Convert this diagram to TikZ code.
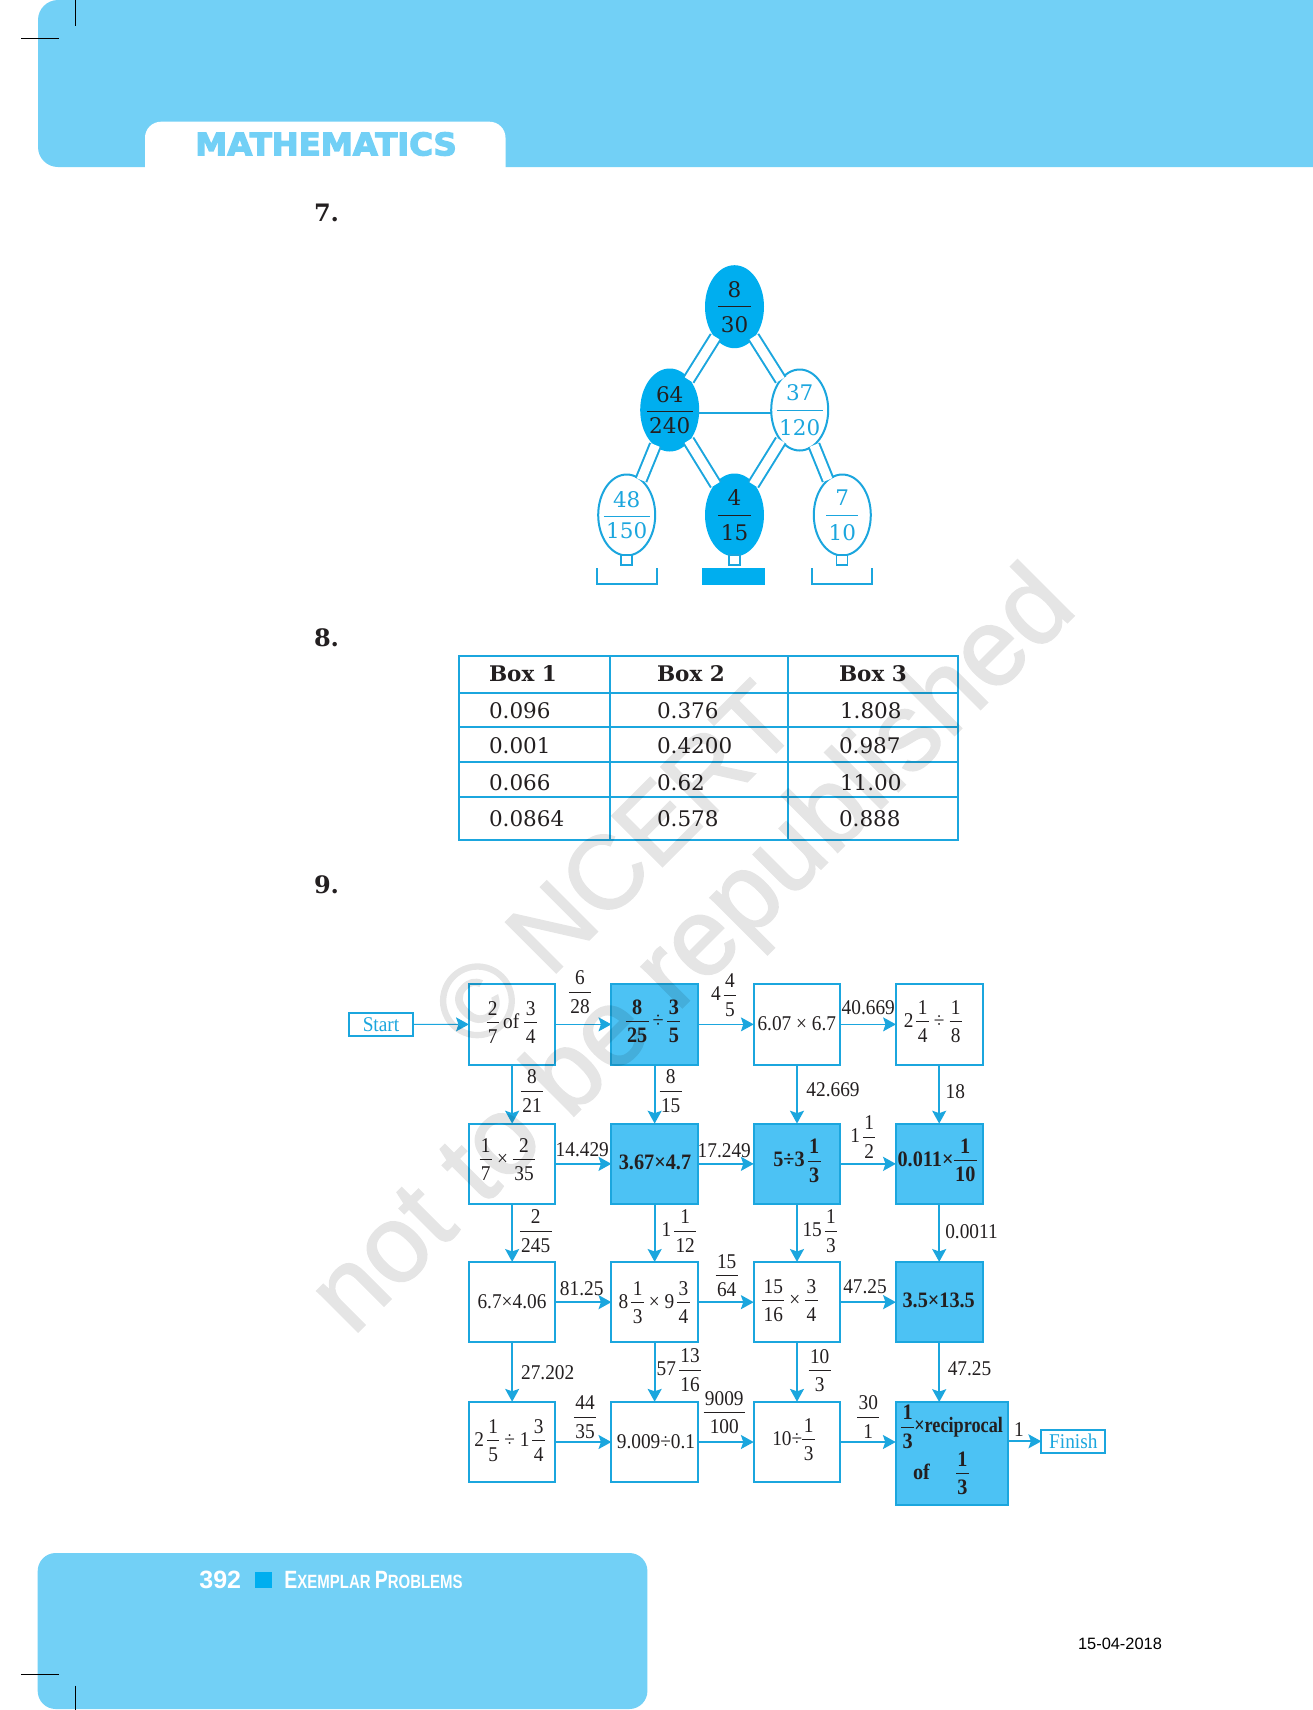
\documentclass[tikz,border=0pt]{standalone}
\usepackage{fontspec}
\setmainfont{Liberation Serif}[FakeStretch=0.92]
\newfontfamily\bk{DejaVu Serif}
\newfontfamily\hs{Liberation Sans}
\newfontfamily\wmf{Liberation Sans}[FakeBold=1.5]
\newfontfamily\hd{DejaVu Sans}[BoldFeatures={FakeBold=4}]
\usetikzlibrary{shapes.geometric,arrows.meta,calc}
\definecolor{hdr}{HTML}{72D0F6}
\definecolor{cy}{HTML}{00AEEF}
\definecolor{ln}{HTML}{1BA6DE}
\definecolor{fbox}{HTML}{4CC2F4}
\definecolor{ink}{HTML}{231F20}
\nulldelimiterspace=0.1pt
% fraction: flowchart
\newcommand\fr[2]{\ensuremath{\displaystyle\frac{\hbox{\kern0.7pt\raisebox{-1pt}{#1}\kern0.7pt}}{\rule{0pt}{9pt}\hbox{\kern0.7pt #2\kern0.7pt}}}}
\newcommand\mx{\kern1.4pt}
% fractions: ellipses, bar on the centre of the node
\newcommand\efr[2]{\makebox[0pt]{\smash{\raisebox{-2.7pt}{\smash{\ensuremath{\displaystyle\frac{\hbox{\kern1.2pt #1\kern1.2pt}}{\rule{0pt}{11.6pt}\hbox{\kern1.2pt #2\kern1.2pt}}}}}}}}
\newcommand\efs[2]{\makebox[0pt]{\smash{\raisebox{-3.5pt}{\smash{\ensuremath{\displaystyle\frac{\hbox{\kern1.2pt #1\kern1.2pt}}{\rule{0pt}{9.6pt}\hbox{\kern1.2pt #2\kern1.2pt}}}}}}}}
\tikzset{
 pg/.style={x=0.5pt,y=-0.5pt},
 lab/.style={inner sep=0,outer sep=0,anchor=base,text=ink,font=\fontsize{10.5}{12}\selectfont},
 blab/.style={inner sep=0,outer sep=0,anchor=base,text=ink,font=\fontsize{11}{12}\selectfont\bfseries},
 clab/.style={inner sep=0,outer sep=0,anchor=base,text=ln,font=\fontsize{10.5}{12}\selectfont},
 wbox/.style={draw=ln,line width=1pt,fill=white,inner sep=0,outer sep=0,minimum width=43.3pt,minimum height=40.3pt},
 fillbox/.style={wbox,fill=fbox},
 tagbox/.style={draw=ln,line width=1pt,fill=white,inner sep=0,outer sep=0,minimum width=32pt,minimum height=11.6pt},
 arr/.style={draw=ln,line width=0.9pt,-{Stealth[length=6.4pt,width=7pt,inset=1.2pt]}},
 thinarr/.style={arr,line width=0.5pt},
 elb/.style={ellipse,draw=ln,line width=1pt,inner sep=0,outer sep=0,minimum width=28.5pt,minimum height=40.5pt,font=\fontsize{10.75}{12}\selectfont\bk},
 efill/.style={elb,draw=cy,fill=cy,text=ink},
 eopen/.style={elb,fill=white,text=ln},
 dbl/.style={draw=ln,line width=1pt,double=white,double distance=4.6pt},
 stem/.style={draw=ln,line width=0.8pt,fill=white,inner sep=0,outer sep=0,minimum width=5.5pt,minimum height=5pt},
 tab/.style={inner sep=0,outer sep=0,anchor=base west,text=ink,font=\fontsize{10.75}{12}\selectfont\bk},
 tabh/.style={tab,font=\fontsize{10.75}{12}\selectfont\bk\bfseries},
 qn/.style={inner sep=0,outer sep=0,anchor=base west,text=ink,font=\fontsize{12}{14}\selectfont\bk\bfseries},
 tline/.style={draw=ln,line width=1pt},
 crop/.style={draw=black,line width=0.5pt},
 wmark/.style={inner sep=0,anchor=base,rotate=45,text=black},
}
\begin{document}
\begin{tikzpicture}[pg]
\useasboundingbox (0,0) rectangle (1313,1710);
\fill[white] (0,0) rectangle (1313,1710);
% header
\fill[hdr,rounded corners=10pt] (38,0) rectangle (1400,167);
\fill[white,rounded corners=8pt] (145,121.7) rectangle (505.5,210);
\node[inner sep=0,anchor=base,text=hdr,font=\fontsize{15.5}{18}\selectfont\hd\bfseries] (title) at (326,155.3) {\scalebox{1.04}[1]{MATHEMATICS}};
\draw[crop] (75.4,0) -- (75.4,25.7);
\draw[crop] (21,38.3) -- (58.5,38.3);
% footer
\fill[hdr,rounded corners=9pt] (37.7,1553) rectangle (647.4,1709);
\node[inner sep=0,anchor=base,text=white,font=\fontsize{12.5}{14}\selectfont\hs\bfseries] (pageno) at (220.3,1588.7) {392};
\fill[cy] (255,1571.7) rectangle (272.3,1588.3);
\node[inner sep=0,anchor=base west,text=white,font=\hs\bfseries] (foot) at (284,1588.7) {\scalebox{0.78}[1]{\fontsize{12.5}{14}\selectfont E\fontsize{9.6}{12}\selectfont XEMPLAR \fontsize{12.5}{14}\selectfont P\fontsize{9.6}{12}\selectfont ROBLEMS}};
\draw[crop] (20.8,1674.3) -- (58.5,1674.3);
\draw[crop] (75.5,1685.7) -- (75.5,1710);
\node[inner sep=0,anchor=base,text=black,font=\fontsize{8.2}{10}\selectfont\hs] (date) at (1120,1649) {15-04-2018};
% question numbers
\node[qn] (q7) at (314,221.7) {7.};
\node[qn] (q8) at (314,646) {8.};
\node[qn] (q9) at (314,893) {9.};
% Q7 ellipses
\node[efill] (et) at (734.5,306.7) {\efr{8}{30}};
\node[efill] (el) at (669.7,410) {\efs{64}{240}};
\node[eopen] (er) at (799.7,410) {\efr{37}{120}};
\node[eopen] (ebl) at (626.7,515) {\efs{48}{150}};
\node[efill] (ebm) at (734.5,515) {\efr{4}{15}};
\node[eopen] (ebr) at (842.3,515) {\efr{7}{10}};
\draw[dbl] (et) -- (el);
\draw[dbl] (et) -- (er);
\draw[dbl] (el) -- (ebl);
\draw[dbl] (el) -- (ebm);
\draw[dbl] (er) -- (ebm);
\draw[dbl] (er) -- (ebr);
\draw[tline] ([yshift=-1.5pt]el.east) -- ([yshift=-1.5pt]er.west);
\node[stem] (s1) at (626.7,560) {};
\node[stem] (s2) at (734.5,560) {};
\node[stem] (s3) at (842,560) {};
\draw[tline] (596.7,568) -- (596.7,584) -- (656.7,584) -- (656.7,568);
\fill[cy] (702,568) rectangle (764.7,584.7);
\draw[tline] (811.7,568) -- (811.7,584) -- (872.3,584) -- (872.3,568);
% Q8 table
\draw[tline] (459,656) rectangle (958,840);
\foreach \yy in {692.7,727.3,762.3,797}{\draw[tline] (459,\yy) -- (958,\yy);}
\foreach \xx in {610,788}{\draw[tline] (\xx,656) -- (\xx,840);}
\node[tabh] (h1) at (489,681.7) {Box 1};
\node[tabh] (h2) at (657,681.7) {Box 2};
\node[tabh] (h3) at (839,681.7) {Box 3};
\node[tab] (c11) at (489,718.3) {0.096};
\node[tab] (c12) at (657,718.3) {0.376};
\node[tab] (c13) at (840,718.3) {1.808};
\node[tab] (c21) at (489,753.3) {0.001};
\node[tab] (c22) at (657,753.3) {0.4200};
\node[tab] (c23) at (839,753.3) {0.987};
\node[tab] (c31) at (489,790) {0.066};
\node[tab] (c32) at (657,790) {0.62};
\node[tab] (c33) at (840,790) {11.00};
\node[tab] (c41) at (489,826) {0.0864};
\node[tab] (c42) at (657,826) {0.578};
\node[tab] (c43) at (839,826) {0.888};
% Q9 boxes
\node[tagbox] (start) at (380.8,1024.4) {};
\node[tagbox] (finish) at (1073.3,1441.3) {};
\node[wbox] (b11) at (512.15,1024.35) {};
\node[fillbox] (b12) at (654.65,1024.35) {};
\node[wbox] (b13) at (797,1024.35) {};
\node[wbox] (b14) at (939.2,1024.35) {};
\node[wbox] (b21) at (512.15,1163.85) {};
\node[fillbox] (b22) at (654.65,1163.85) {};
\node[fillbox] (b23) at (797,1163.85) {};
\node[fillbox] (b24) at (939.2,1163.85) {};
\node[wbox] (b31) at (512.15,1302.15) {};
\node[wbox] (b32) at (654.65,1302.15) {};
\node[wbox] (b33) at (797,1302.15) {};
\node[fillbox] (b34) at (939.2,1302.15) {};
\node[wbox] (b41) at (512.15,1442) {};
\node[wbox] (b42) at (654.65,1442) {};
\node[wbox] (b43) at (797,1442) {};
\node[fillbox,minimum width=56pt,minimum height=51.65pt] (b44) at (951.7,1453.65) {};
% connectors
\draw[thinarr] (start) -- (b11);
\draw[thinarr] (b11) -- (b12);
\draw[thinarr] (b12) -- (b13);
\draw[thinarr] (b13) -- (b14);
\draw[arr] (b21) -- (b22);
\draw[arr] (b22) -- (b23);
\draw[arr] (b23) -- (b24);
\draw[arr] (b31) -- (b32);
\draw[arr] (b32) -- (b33);
\draw[arr] (b33) -- (b34);
\draw[arr] (b41) -- (b42);
\draw[arr] (b42) -- (b43);
\draw[arr] (b43.east) -- (b43.east -| b44.west);
\draw[arr] (b44.east |- finish.west) -- (finish.west);
\draw[arr] (b11) -- (b21);
\draw[arr] (b21) -- (b31);
\draw[arr] (b31) -- (b41);
\draw[arr] (b12) -- (b22);
\draw[arr] (b22) -- (b32);
\draw[arr] (b32) -- (b42);
\draw[arr] (b13) -- (b23);
\draw[arr] (b23) -- (b33);
\draw[arr] (b33) -- (b43);
\draw[arr] (b14) -- (b24);
\draw[arr] (b24) -- (b34);
\draw[arr] (b34.south) -- (b34.south |- b44.north);
% box texts
\node[clab] (tstart) at (381,1031) {Start};
\node[clab] (tfinish) at (1073.3,1448) {Finish};
\node[lab] (t11) at (511.7,1028) {\fr{2}{7}\kern2pt of \fr{3}{4}};
\node[blab] (t12) at (653,1027) {\fr{8}{25}\,{\normalfont ÷}\,\fr{3}{5}};
\node[lab] (t13) at (796.8,1030) {6.07 × 6.7};
\node[lab] (t14) at (933,1027) {2\mx\fr{1}{4} ÷ \fr{1}{8}};
\node[lab] (t21) at (507.3,1165) {\fr{1}{7} × \fr{2}{35}};
\node[blab] (t22) at (655,1169) {3.67×4.7};
\node[blab] (t23) at (797,1166.7) {5÷3\mx\fr{1}{3}};
\node[blab] (t24) at (937.3,1166) {0.011×\fr{1}{10}};
\node[lab] (t31) at (512,1308) {6.7×4.06};
\node[lab] (t32) at (654.3,1308) {8\mx\fr{1}{3} × 9\mx\fr{3}{4}};
\node[lab] (t33) at (790,1306) {\fr{15}{16} × \fr{3}{4}};
\node[blab] (t34) at (938.7,1307.7) {3.5×13.5};
\node[lab] (t41) at (509.7,1446) {2\mx\fr{1}{5} ÷ 1\mx\fr{3}{4}};
\node[lab] (t42) at (656,1448) {9.009÷0.1};
\node[lab] (t43) at (793.7,1445) {10÷\fr{1}{3}};
\node[blab,anchor=base west] (t44a) at (901,1432.7) {\fr{1}{3}\scalebox{0.9}[1]{×reciprocal}};
\node[blab,anchor=base west] (t44b) at (913,1479) {of\hspace{13pt}\fr{1}{3}};
% edge labels
\node[lab] (l1) at (580,997.7) {\fr{6}{28}};
\node[lab] (l2) at (723.7,1000.7) {4\mx\fr{4}{5}};
\node[lab] (l3) at (868.3,1014) {40.669};
\node[lab] (l4) at (532,1096.7) {\fr{8}{21}};
\node[lab] (l5) at (670.7,1096.7) {\fr{8}{15}};
\node[lab] (l6) at (833,1096.7) {42.669};
\node[lab] (l7) at (955.3,1098) {18};
\node[lab] (l8) at (582.3,1156) {14.429};
\node[lab] (l9) at (724.3,1157.3) {17.249};
\node[lab] (l10) at (863,1142.7) {1\mx\fr{1}{2}};
\node[lab] (l11) at (535.7,1236.7) {\fr{2}{245}};
\node[lab] (l12) at (679,1236.7) {1\mx\fr{1}{12}};
\node[lab] (l13) at (820,1236.7) {15\mx\fr{1}{3}};
\node[lab] (l14) at (971.5,1238.3) {0.0011};
\node[lab] (l15) at (581.7,1295) {81.25};
\node[lab] (l16) at (726.7,1281) {\fr{15}{64}};
\node[lab] (l17) at (865,1293.3) {47.25};
\node[lab] (l18) at (547.7,1379) {27.202};
\node[lab] (l19) at (679,1375.7) {57\mx\fr{13}{16}};
\node[lab] (l20) at (819.7,1376) {\fr{10}{3}};
\node[lab] (l21) at (969.5,1375.7) {47.25};
\node[lab] (l22) at (585,1422.7) {\fr{44}{35}};
\node[lab] (l23) at (724.3,1418.3) {\fr{9009}{100}};
\node[lab] (l24) at (868.3,1422.7) {\fr{30}{1}};
\node[lab] (l25) at (1019,1436.7) {1};
% watermark
\begin{scope}[transparency group,opacity=0.1]
\node[wmark,font=\fontsize{55}{60}\selectfont\wmf] (wm2) at (716,974) {not to be republished};
\node[wmark,font=\fontsize{52}{60}\selectfont\wmf] (wm1) at (639,890) {© NCERT};
\end{scope}
\end{tikzpicture}
\end{document}
